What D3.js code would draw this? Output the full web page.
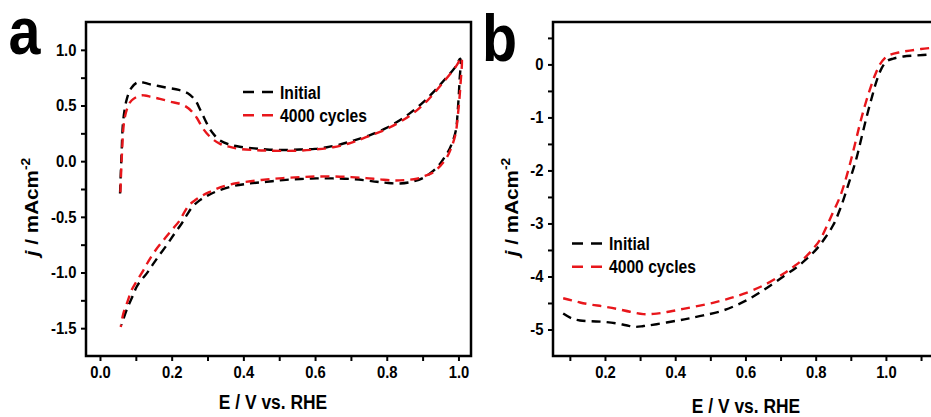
<!DOCTYPE html>
<html>
<head>
<meta charset="utf-8">
<script src="https://cdn.jsdelivr.net/npm/d3@7"></script>
<style>
  body { margin: 0; background: #fff; }
  text { font-family: "Liberation Sans", Arial, sans-serif; font-weight: bold; fill: #000; }
</style>
</head>
<body>
<div id="chart"></div>
<script>
// ---- data ----
const seriesNames = ["Initial", "4000 cycles"];
const seriesColors = ["#000000", "#e8161b"];

// (a) cyclic voltammograms, [E, j]
const cvInitial = [
  [0.056,-0.29],[0.060,0.05],[0.065,0.37],[0.075,0.56],[0.088,0.66],[0.107,0.71],[0.14,0.69],
  [0.186,0.66],[0.22,0.64],[0.245,0.61],[0.265,0.55],[0.28,0.46],[0.298,0.34],[0.315,0.25],
  [0.333,0.19],[0.36,0.15],[0.39,0.13],[0.43,0.115],[0.465,0.105],[0.51,0.10],[0.558,0.105],
  [0.6,0.11],[0.633,0.125],[0.67,0.15],[0.707,0.185],[0.75,0.23],[0.8,0.30],[0.856,0.41],
  [0.902,0.53],[0.93,0.62],[0.958,0.72],[0.99,0.84],[1.005,0.92],
  [1.003,0.72],[0.998,0.45],[0.993,0.28],[0.983,0.17],[0.972,0.09],[0.96,0.03],[0.947,-0.03],
  [0.925,-0.10],[0.902,-0.15],[0.87,-0.185],[0.837,-0.20],[0.8,-0.195],[0.772,-0.185],
  [0.735,-0.17],[0.698,-0.16],[0.65,-0.155],[0.605,-0.155],[0.56,-0.16],[0.511,-0.17],
  [0.465,-0.185],[0.419,-0.2],[0.37,-0.225],[0.326,-0.27],[0.3,-0.31],[0.279,-0.35],[0.258,-0.41],
  [0.243,-0.48],[0.228,-0.56],[0.208,-0.65],[0.186,-0.755],[0.162,-0.86],[0.145,-0.94],
  [0.13,-1.01],[0.112,-1.08],[0.102,-1.13],[0.09,-1.22],[0.075,-1.33],[0.06,-1.47]
];
const cvCycles = [
  [0.057,-0.28],[0.061,0.05],[0.068,0.37],[0.078,0.49],[0.088,0.545],[0.112,0.59],[0.125,0.59],
  [0.145,0.575],[0.167,0.56],[0.195,0.535],[0.223,0.515],[0.24,0.49],[0.255,0.45],[0.27,0.39],
  [0.288,0.29],[0.31,0.21],[0.335,0.155],[0.36,0.13],[0.39,0.11],[0.43,0.10],[0.465,0.095],
  [0.51,0.092],[0.558,0.095],[0.6,0.105],[0.65,0.125],[0.7,0.165],[0.742,0.215],[0.8,0.29],
  [0.865,0.41],[0.912,0.54],[0.958,0.71],[0.995,0.86],[1.008,0.93],
  [1.005,0.66],[0.998,0.4],[0.992,0.245],[0.98,0.12],[0.968,0.036],[0.95,-0.04],[0.93,-0.10],
  [0.905,-0.135],[0.884,-0.158],[0.85,-0.17],[0.819,-0.173],[0.78,-0.163],[0.742,-0.152],
  [0.7,-0.143],[0.651,-0.137],[0.6,-0.138],[0.558,-0.143],[0.51,-0.152],[0.465,-0.164],
  [0.42,-0.18],[0.372,-0.203],[0.335,-0.235],[0.307,-0.275],[0.285,-0.31],[0.268,-0.345],
  [0.25,-0.39],[0.235,-0.46],[0.223,-0.53],[0.2,-0.62],[0.177,-0.71],[0.155,-0.80],
  [0.135,-0.9],[0.121,-0.98],[0.1,-1.09],[0.088,-1.16],[0.077,-1.26],[0.065,-1.37],[0.058,-1.49]
];

// (b) polarisation curves, [E, j]
const lsvInitial = [
  [0.081,-4.70],[0.105,-4.79],[0.129,-4.83],[0.16,-4.845],[0.195,-4.855],[0.233,-4.885],
  [0.26,-4.92],[0.285,-4.95],[0.31,-4.935],[0.347,-4.90],[0.404,-4.835],[0.44,-4.79],
  [0.48,-4.735],[0.537,-4.64],[0.594,-4.48],[0.651,-4.26],[0.708,-4.0],[0.745,-3.83],
  [0.774,-3.67],[0.803,-3.48],[0.826,-3.28],[0.85,-3.03],[0.87,-2.72],[0.888,-2.37],
  [0.903,-2.06],[0.917,-1.75],[0.931,-1.37],[0.945,-0.99],[0.96,-0.62],[0.974,-0.30],
  [0.988,-0.07],[1.002,0.06],[1.021,0.11],[1.05,0.15],[1.09,0.17],[1.128,0.19]
];
const lsvCycles = [
  [0.081,-4.41],[0.105,-4.45],[0.129,-4.49],[0.16,-4.53],[0.195,-4.565],[0.233,-4.61],
  [0.271,-4.665],[0.309,-4.71],[0.347,-4.70],[0.385,-4.66],[0.423,-4.61],[0.47,-4.55],
  [0.518,-4.48],[0.556,-4.41],[0.594,-4.33],[0.651,-4.17],[0.708,-3.95],[0.74,-3.8],
  [0.765,-3.67],[0.79,-3.5],[0.812,-3.31],[0.831,-3.06],[0.85,-2.78],[0.869,-2.5],
  [0.884,-2.2],[0.898,-1.87],[0.912,-1.5],[0.926,-1.12],[0.94,-0.78],[0.955,-0.46],
  [0.969,-0.2],[0.983,0.0],[0.997,0.12],[1.011,0.18],[1.04,0.23],[1.068,0.26],[1.1,0.29],
  [1.128,0.31]
];

// tick values
const cvXTicks = [0, 0.2, 0.4, 0.6, 0.8, 1.0];
const cvXMinor = [0.1, 0.3, 0.5, 0.7, 0.9];
const cvYTicks = [-1.5, -1.0, -0.5, 0, 0.5, 1.0];
const cvYMinor = [-1.25, -0.75, -0.25, 0.25, 0.75];
const lsvXTicks = [0.2, 0.4, 0.6, 0.8, 1.0];
const lsvXMinor = [0.1, 0.3, 0.5, 0.7, 0.9, 1.1];
const lsvYTicks = [-5, -4, -3, -2, -1, 0];
const lsvYMinor = [-4.5, -3.5, -2.5, -1.5, -0.5, 0.5];

// ---- drawing ----
const W = 931, H = 417;
const SX = 0.87; // the figure's lettering is narrow

const svg = d3.select("#chart").append("svg")
  .attr("width", W)
  .attr("height", H);

svg.append("rect").attr("width", W).attr("height", H).attr("fill", "#fff");

const panels = [
  {
    id: "a", left: 86, right: 471, top: 22, bottom: 356,
    xDomain: [-0.039, 1.035], yDomain: [-1.75, 1.25],
    xTicks: cvXTicks, xMinor: cvXMinor, yTicks: cvYTicks, yMinor: cvYMinor,
    xFmt: (d) => d.toFixed(1), yFmt: (d) => d.toFixed(1),
    data: [cvInitial, cvCycles],
    letter: { x: 8.5, y: 54 },
    legend: { x: 243, y: 92 },
    xTitle: { x: 273, y: 409 },
    yTitle: { x: 38, y: 207 }
  },
  {
    id: "b", left: 553, right: 940, top: 22, bottom: 356,
    xDomain: [0.052, 1.154], yDomain: [-5.5, 0.8],
    xTicks: lsvXTicks, xMinor: lsvXMinor, yTicks: lsvYTicks, yMinor: lsvYMinor,
    xFmt: (d) => d.toFixed(1), yFmt: (d) => String(d),
    data: [lsvInitial, lsvCycles],
    letter: { x: 482, y: 61 },
    legend: { x: 572, y: 243.5 },
    xTitle: { x: 746, y: 413 },
    yTitle: { x: 518, y: 207 }
  }
];

panels.forEach(drawPanel);

function drawPanel(p) {
  const x = d3.scaleLinear().domain(p.xDomain).range([p.left, p.right]);
  const y = d3.scaleLinear().domain(p.yDomain).range([p.bottom, p.top]);

  const g = svg.append("g").attr("class", "panel-" + p.id);

  g.append("clipPath")
    .attr("id", "clip-" + p.id)
    .append("rect")
    .attr("x", p.left)
    .attr("y", p.top)
    .attr("width", p.right - p.left)
    .attr("height", p.bottom - p.top);

  const line = d3.line()
    .x((d) => x(d[0]))
    .y((d) => y(d[1]))
    .curve(d3.curveCatmullRom.alpha(0.5));

  g.append("g")
    .attr("clip-path", `url(#clip-${p.id})`)
    .selectAll("path")
    .data(p.data)
    .join("path")
    .attr("d", line)
    .attr("fill", "none")
    .attr("stroke", (d, i) => seriesColors[i])
    .attr("stroke-width", 2.4)
    .attr("stroke-dasharray", "9,6");

  // frame
  g.append("rect")
    .attr("x", p.left)
    .attr("y", p.top)
    .attr("width", p.right - p.left)
    .attr("height", p.bottom - p.top)
    .attr("fill", "none")
    .attr("stroke", "#000")
    .attr("stroke-width", 2.5);

  // axes
  const xAxis = d3.axisBottom(x)
    .tickValues([...p.xTicks, ...p.xMinor])
    .tickFormat((d) => (p.xTicks.includes(d) ? p.xFmt(d) : ""))
    .tickSize(5)
    .tickPadding(5);

  const yAxis = d3.axisLeft(y)
    .tickValues([...p.yTicks, ...p.yMinor])
    .tickFormat((d) => (p.yTicks.includes(d) ? p.yFmt(d) : ""))
    .tickSize(5)
    .tickPadding(6);

  [
    g.append("g").attr("transform", `translate(0,${p.bottom})`).call(xAxis),
    g.append("g").attr("transform", `translate(${p.left},0)`).call(yAxis)
  ].forEach((ax) => {
    ax.attr("font-size", 17).attr("font-family", null);
    ax.select(".domain").remove();
    ax.selectAll(".tick line").attr("stroke-width", 2);
    ax.selectAll(".tick text").attr("transform", `scale(${SX},1)`);
  });

  // panel letter
  g.append("text")
    .attr("transform", `translate(${p.letter.x},${p.letter.y}) scale(${SX},1)`)
    .style("font-size", "66px")
    .text(p.id);

  // legend
  const leg = g.append("g").attr("transform", `translate(${p.legend.x},${p.legend.y})`);
  seriesNames.forEach((name, i) => {
    const yy = i * 23.3;
    leg.append("line")
      .attr("x1", 0).attr("x2", 30)
      .attr("y1", yy).attr("y2", yy)
      .attr("stroke", seriesColors[i])
      .attr("stroke-width", 2.4)
      .attr("stroke-dasharray", "11,8");
    leg.append("text")
      .attr("transform", `translate(37,${yy + 6.5}) scale(${SX},1)`)
      .style("font-size", "18px")
      .text(name);
  });

  // axis titles
  g.append("text")
    .attr("transform", `translate(${p.xTitle.x},${p.xTitle.y}) scale(${SX},1)`)
    .attr("text-anchor", "middle")
    .style("font-size", "20px")
    .text("E / V vs. RHE");

  const yt = g.append("text")
    .attr("transform", `translate(${p.yTitle.x},${p.yTitle.y}) rotate(-90) scale(1.15,1)`)
    .attr("text-anchor", "middle")
    .style("font-size", "18px");
  yt.append("tspan").style("font-style", "italic").text("j");
  yt.append("tspan").text(" / mAcm");
  yt.append("tspan").attr("dy", -8).style("font-size", "12px").text("-2");
}
</script>
</body>
</html>
